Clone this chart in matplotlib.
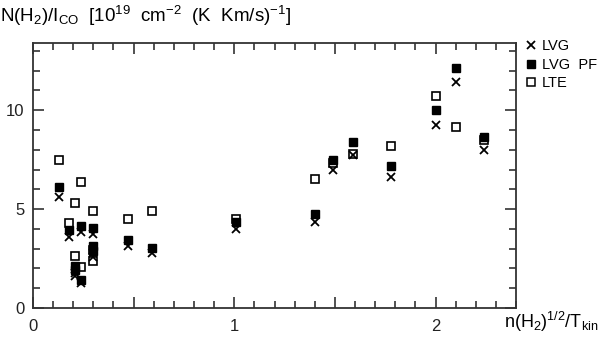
import matplotlib
matplotlib.use("Agg")
import matplotlib.pyplot as plt
from matplotlib.ticker import MultipleLocator, FuncFormatter
from matplotlib.lines import Line2D

plt.rcParams['font.family'] = ['Liberation Sans', 'DejaVu Sans']
plt.rcParams['mathtext.fontset'] = 'custom'
plt.rcParams['mathtext.rm'] = 'Liberation Sans'
plt.rcParams['mathtext.it'] = 'Liberation Sans'
plt.rcParams['mathtext.bf'] = 'Liberation Sans'

x_vals = [0.13, 0.18, 0.21, 0.21, 0.24, 0.24, 0.30, 0.30, 0.30, 0.47, 0.59,
          1.01, 1.40, 1.49, 1.59, 1.78, 2.00, 2.10, 2.24]
lvg = [5.6, 3.6, 1.75, 1.6, 3.83, 1.25, 3.73, 2.78, 2.6, 3.14, 2.77,
       4.0, 4.35, 7.0, 7.75, 6.65, 9.27, 11.41, 8.0]
lvg_pf = [6.1, 3.95, 2.1, 1.9, 4.15, 1.42, 4.03, 3.14, 2.9, 3.44, 3.02,
          4.35, 4.75, 7.5, 8.4, 7.16, 10.03, 12.13, 8.67]
lte = [7.5, 4.3, 2.63, 5.3, 6.36, 2.08, 4.91, 2.94, 2.38, 4.52, 4.9,
       4.5, 6.5, 7.35, 7.8, 8.2, 10.73, 9.15, 8.5]
legend_labels = ["LVG", "LVG  PF", "LTE"]

fig = plt.figure(figsize=(6.01, 3.43), dpi=100)
ax = fig.add_axes([0.0549, 0.102, 0.8037, 0.7726])

ms = 6.3
ax.plot(x_vals, lte, linestyle='none', marker='s', markersize=ms,
        markerfacecolor='white', markeredgecolor='black', markeredgewidth=1.2)
ax.plot(x_vals, lvg_pf, linestyle='none', marker='s', markersize=ms,
        color='black')
ax.plot(x_vals, lvg, linestyle='none', marker='x', markersize=ms,
        color='black', markeredgewidth=1.3)

ax.set_xlim(0, 2.4)
ax.set_ylim(0, 13.4)
ax.xaxis.set_major_locator(MultipleLocator(0.5))
ax.xaxis.set_minor_locator(MultipleLocator(0.1))
ax.yaxis.set_major_locator(MultipleLocator(5))
ax.yaxis.set_minor_locator(MultipleLocator(1))
ax.xaxis.set_major_formatter(FuncFormatter(
    lambda v, p: f"{int(round(v))}" if abs(v - round(v)) < 1e-6 else ""))
ax.tick_params(which='both', direction='in', top=True, right=True,
               labelsize=12, colors='#222222', width=1.1)
ax.tick_params(which='major', length=8, pad=8)
ax.tick_params(axis='y', which='major', pad=6)
ax.tick_params(which='minor', length=5)
for s in ax.spines.values():
    s.set_linewidth(1.3)
    s.set_color('#333333')

fig.text(0.0, 0.99, r"N(H$_2$)/I$_{\rm CO}$  [10$^{19}$  cm$^{-2}$  (K  Km/s)$^{-1}$]",
         ha='left', va='top', fontsize=13.5)
fig.text(0.995, 0.025, r"n(H$_2$)$^{1/2}$/T$_{\rm kin}$",
         ha='right', va='bottom', fontsize=13)

handles = [
    Line2D([], [], linestyle='none', marker='x', markersize=5.5, color='black', markeredgewidth=1.3),
    Line2D([], [], linestyle='none', marker='s', markersize=5.5, color='black'),
    Line2D([], [], linestyle='none', marker='s', markersize=5.5, markerfacecolor='white',
           markeredgecolor='black', markeredgewidth=1.1),
]
fig.legend(handles, legend_labels, loc='upper left', bbox_to_anchor=(0.878, 0.885),
           frameon=False, fontsize=10.5, handlelength=0.5, handletextpad=0.45,
           labelspacing=0.3, borderpad=0, borderaxespad=0)

fig.savefig("out.png", dpi=100)
